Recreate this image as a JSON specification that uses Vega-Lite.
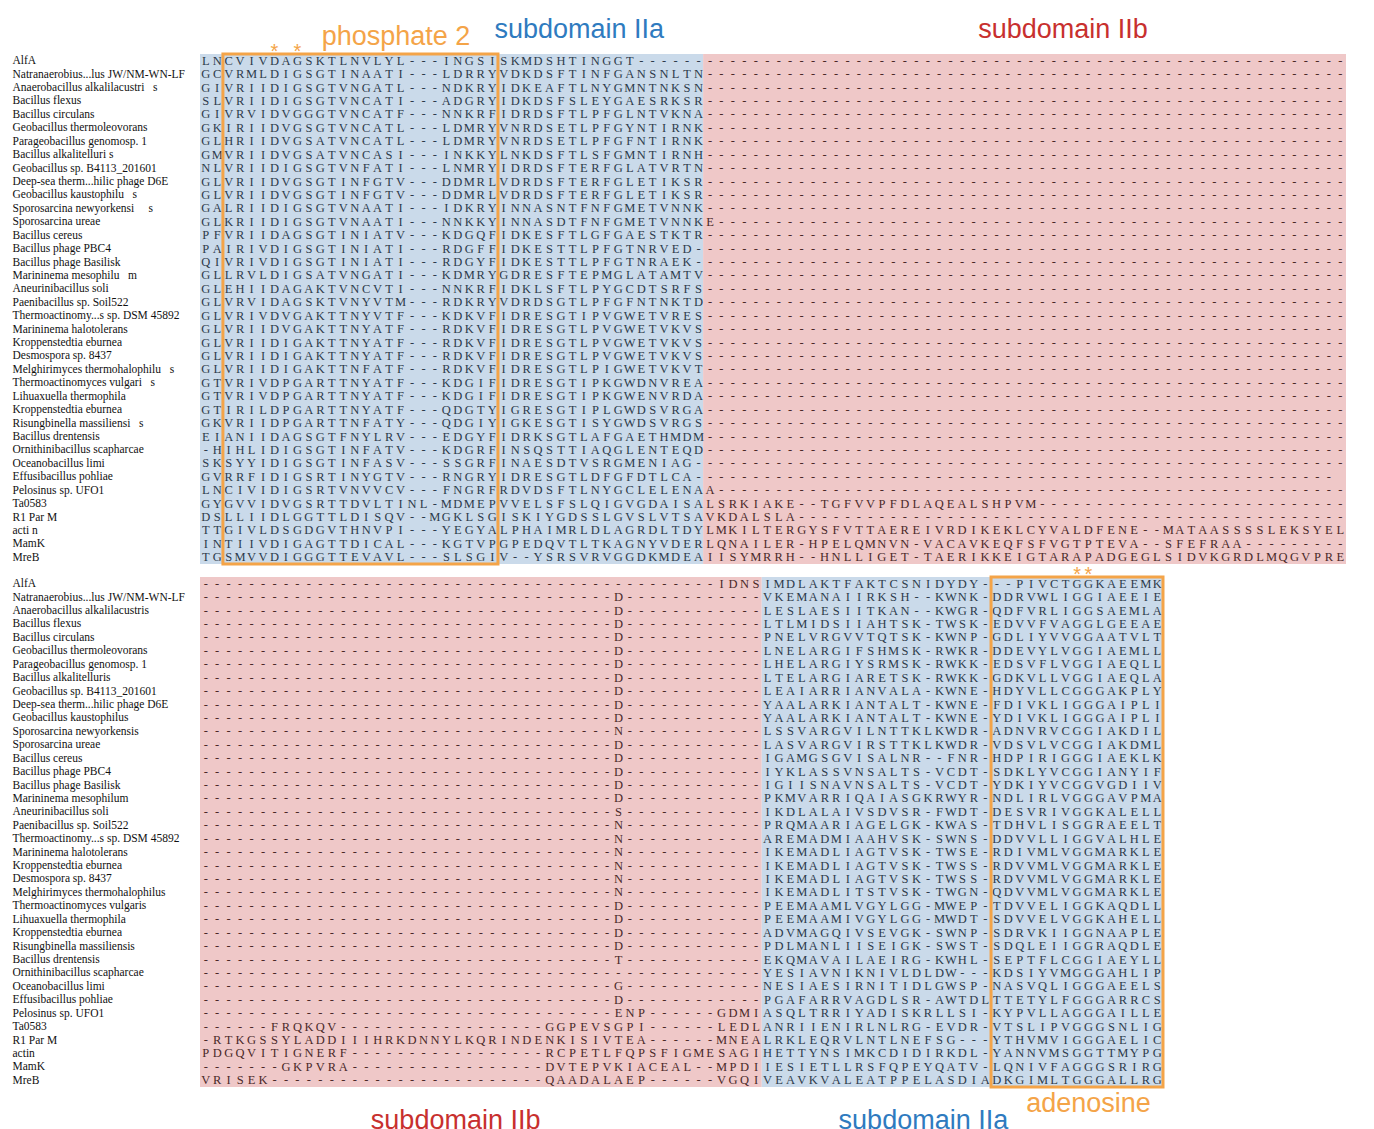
{
"$schema": "https://vega.github.io/schema/vega-lite/v6.json",
"background": "white",
"padding": {"left": 12, "top": 15, "right": 10, "bottom": 10},
"bounds": "flush",
"spacing": 13,
"config": {"view": {"stroke": null}, "axis": {"domain": false, "ticks": false, "grid": false}},
"datasets": {
"top": [
{"n":"AlfA","s":["L","N","C","V","I","V","D","A","G","S","K","T","L","N","V","L","Y","L","-","-","-","I","N","G","S","I","S","K","M","D","S","H","T","I","N","G","G","T","-","-","-","-","-","-","-","-","-","-","-","-","-","-","-","-","-","-","-","-","-","-","-","-","-","-","-","-","-","-","-","-","-","-","-","-","-","-","-","-","-","-","-","-","-","-","-","-","-","-","-","-","-","-","-","-","-","-","-","-","-","-"]},
{"n":"Natranaerobius...lus JW/NM-WN-LF","s":["G","C","V","R","M","L","D","I","G","S","G","T","I","N","A","A","T","I","-","-","-","L","D","R","R","Y","V","D","K","D","S","F","T","I","N","F","G","A","N","S","N","L","T","N","-","-","-","-","-","-","-","-","-","-","-","-","-","-","-","-","-","-","-","-","-","-","-","-","-","-","-","-","-","-","-","-","-","-","-","-","-","-","-","-","-","-","-","-","-","-","-","-","-","-","-","-","-","-","-","-"]},
{"n":"Anaerobacillus alkalilacustri\u00a0\u00a0\u00a0s","s":["G","I","V","R","I","I","D","I","G","S","G","T","V","N","G","A","T","L","-","-","-","N","D","K","R","Y","I","D","K","E","A","F","T","L","N","Y","G","M","N","T","N","K","S","N","-","-","-","-","-","-","-","-","-","-","-","-","-","-","-","-","-","-","-","-","-","-","-","-","-","-","-","-","-","-","-","-","-","-","-","-","-","-","-","-","-","-","-","-","-","-","-","-","-","-","-","-","-","-","-","-"]},
{"n":"Bacillus flexus","s":["S","L","V","R","I","I","D","I","G","S","G","T","V","N","C","A","T","I","-","-","-","A","D","G","R","Y","I","D","K","D","S","F","S","L","E","Y","G","A","E","S","R","K","S","R","-","-","-","-","-","-","-","-","-","-","-","-","-","-","-","-","-","-","-","-","-","-","-","-","-","-","-","-","-","-","-","-","-","-","-","-","-","-","-","-","-","-","-","-","-","-","-","-","-","-","-","-","-","-","-","-"]},
{"n":"Bacillus circulans","s":["G","I","V","R","V","I","D","V","G","G","G","T","V","N","C","A","T","F","-","-","-","N","N","K","R","F","I","D","R","D","S","F","T","L","P","F","G","L","N","T","V","K","N","A","-","-","-","-","-","-","-","-","-","-","-","-","-","-","-","-","-","-","-","-","-","-","-","-","-","-","-","-","-","-","-","-","-","-","-","-","-","-","-","-","-","-","-","-","-","-","-","-","-","-","-","-","-","-","-","-"]},
{"n":"Geobacillus thermoleovorans","s":["G","K","I","R","I","I","D","V","G","S","G","T","V","N","C","A","T","L","-","-","-","L","D","M","R","Y","V","N","R","D","S","E","T","L","P","F","G","Y","N","T","I","R","N","K","-","-","-","-","-","-","-","-","-","-","-","-","-","-","-","-","-","-","-","-","-","-","-","-","-","-","-","-","-","-","-","-","-","-","-","-","-","-","-","-","-","-","-","-","-","-","-","-","-","-","-","-","-","-","-","-"]},
{"n":"Parageobacillus genomosp. 1","s":["G","L","H","R","I","I","D","V","G","S","A","T","V","N","C","A","T","L","-","-","-","L","D","M","R","Y","V","N","R","D","S","E","T","L","P","F","G","F","N","T","I","R","N","K","-","-","-","-","-","-","-","-","-","-","-","-","-","-","-","-","-","-","-","-","-","-","-","-","-","-","-","-","-","-","-","-","-","-","-","-","-","-","-","-","-","-","-","-","-","-","-","-","-","-","-","-","-","-","-","-"]},
{"n":"Bacillus alkalitelluri s","s":["G","M","V","R","I","I","D","V","G","S","A","T","V","N","C","A","S","I","-","-","-","I","N","K","K","Y","L","N","K","D","S","F","T","L","S","F","G","M","N","T","I","R","N","H","-","-","-","-","-","-","-","-","-","-","-","-","-","-","-","-","-","-","-","-","-","-","-","-","-","-","-","-","-","-","-","-","-","-","-","-","-","-","-","-","-","-","-","-","-","-","-","-","-","-","-","-","-","-","-","-"]},
{"n":"Geobacillus sp. B4113_201601","s":["N","L","V","R","I","I","D","I","G","S","G","T","V","N","F","A","T","I","-","-","-","L","N","M","R","Y","I","D","R","D","S","F","T","E","R","F","G","L","A","T","V","R","T","N","-","-","-","-","-","-","-","-","-","-","-","-","-","-","-","-","-","-","-","-","-","-","-","-","-","-","-","-","-","-","-","-","-","-","-","-","-","-","-","-","-","-","-","-","-","-","-","-","-","-","-","-","-","-","-","-"]},
{"n":"Deep-sea therm...hilic phage D6E","s":["G","L","V","R","I","I","D","V","G","S","G","T","I","N","F","G","T","V","-","-","-","D","D","M","R","L","V","D","R","D","S","F","T","E","R","F","G","L","E","T","I","K","S","R","-","-","-","-","-","-","-","-","-","-","-","-","-","-","-","-","-","-","-","-","-","-","-","-","-","-","-","-","-","-","-","-","-","-","-","-","-","-","-","-","-","-","-","-","-","-","-","-","-","-","-","-","-","-","-","-"]},
{"n":"Geobacillus kaustophilu\u00a0\u00a0\u00a0s","s":["G","L","V","R","I","I","D","V","G","S","G","T","I","N","F","G","T","V","-","-","-","D","D","M","R","L","V","D","R","D","S","F","T","E","R","F","G","L","E","T","I","K","S","R","-","-","-","-","-","-","-","-","-","-","-","-","-","-","-","-","-","-","-","-","-","-","-","-","-","-","-","-","-","-","-","-","-","-","-","-","-","-","-","-","-","-","-","-","-","-","-","-","-","-","-","-","-","-","-","-"]},
{"n":"Sporosarcina newyorkensi\u00a0\u00a0\u00a0\u00a0\u00a0s","s":["G","A","L","R","I","I","D","I","G","S","G","T","V","N","A","A","T","I","-","-","-","I","D","K","R","Y","I","N","N","A","S","N","T","F","N","F","G","M","E","T","V","N","N","K","-","-","-","-","-","-","-","-","-","-","-","-","-","-","-","-","-","-","-","-","-","-","-","-","-","-","-","-","-","-","-","-","-","-","-","-","-","-","-","-","-","-","-","-","-","-","-","-","-","-","-","-","-","-","-","-"]},
{"n":"Sporosarcina ureae","s":["G","L","K","R","I","I","D","I","G","S","G","T","V","N","A","A","T","I","-","-","-","N","N","K","K","Y","I","N","N","A","S","D","T","F","N","F","G","M","E","T","V","N","N","K","E","-","-","-","-","-","-","-","-","-","-","-","-","-","-","-","-","-","-","-","-","-","-","-","-","-","-","-","-","-","-","-","-","-","-","-","-","-","-","-","-","-","-","-","-","-","-","-","-","-","-","-","-","-","-","-"]},
{"n":"Bacillus cereus","s":["P","F","V","R","I","I","D","A","G","S","G","T","I","N","I","A","T","V","-","-","-","K","D","G","Q","F","I","D","K","E","S","F","T","L","G","F","G","A","E","S","T","K","T","R","-","-","-","-","-","-","-","-","-","-","-","-","-","-","-","-","-","-","-","-","-","-","-","-","-","-","-","-","-","-","-","-","-","-","-","-","-","-","-","-","-","-","-","-","-","-","-","-","-","-","-","-","-","-","-","-"]},
{"n":"Bacillus phage PBC4","s":["P","A","I","R","I","V","D","I","G","S","G","T","I","N","I","A","T","I","-","-","-","R","D","G","F","F","I","D","K","E","S","T","T","L","P","F","G","T","N","R","V","E","D","-","-","-","-","-","-","-","-","-","-","-","-","-","-","-","-","-","-","-","-","-","-","-","-","-","-","-","-","-","-","-","-","-","-","-","-","-","-","-","-","-","-","-","-","-","-","-","-","-","-","-","-","-","-","-","-","-"]},
{"n":"Bacillus phage Basilisk","s":["Q","I","V","R","I","V","D","I","G","S","G","T","I","N","I","A","T","I","-","-","-","R","D","G","Y","F","I","D","K","E","S","T","T","L","P","F","G","T","N","R","A","E","K","-","-","-","-","-","-","-","-","-","-","-","-","-","-","-","-","-","-","-","-","-","-","-","-","-","-","-","-","-","-","-","-","-","-","-","-","-","-","-","-","-","-","-","-","-","-","-","-","-","-","-","-","-","-","-","-","-"]},
{"n":"Marininema mesophilu\u00a0\u00a0\u00a0m","s":["G","L","L","R","V","L","D","I","G","S","A","T","V","N","G","A","T","I","-","-","-","K","D","M","R","Y","G","D","R","E","S","F","T","E","P","M","G","L","A","T","A","M","T","V","-","-","-","-","-","-","-","-","-","-","-","-","-","-","-","-","-","-","-","-","-","-","-","-","-","-","-","-","-","-","-","-","-","-","-","-","-","-","-","-","-","-","-","-","-","-","-","-","-","-","-","-","-","-","-","-"]},
{"n":"Aneurinibacillus soli","s":["G","L","E","H","I","I","D","A","G","A","K","T","V","N","C","V","T","I","-","-","-","N","N","K","R","F","I","D","K","L","S","F","T","L","P","Y","G","C","D","T","S","R","F","S","-","-","-","-","-","-","-","-","-","-","-","-","-","-","-","-","-","-","-","-","-","-","-","-","-","-","-","-","-","-","-","-","-","-","-","-","-","-","-","-","-","-","-","-","-","-","-","-","-","-","-","-","-","-","-","-"]},
{"n":"Paenibacillus sp. Soil522","s":["G","L","V","R","V","I","D","A","G","S","K","T","V","N","Y","V","T","M","-","-","-","R","D","K","R","Y","V","D","R","D","S","G","T","L","P","F","G","F","N","T","N","K","T","D","-","-","-","-","-","-","-","-","-","-","-","-","-","-","-","-","-","-","-","-","-","-","-","-","-","-","-","-","-","-","-","-","-","-","-","-","-","-","-","-","-","-","-","-","-","-","-","-","-","-","-","-","-","-","-","-"]},
{"n":"Thermoactinomy...s sp. DSM 45892","s":["G","L","V","R","I","V","D","V","G","A","K","T","T","N","Y","V","T","F","-","-","-","K","D","K","V","F","I","D","R","E","S","G","T","I","P","V","G","W","E","T","V","R","E","S","-","-","-","-","-","-","-","-","-","-","-","-","-","-","-","-","-","-","-","-","-","-","-","-","-","-","-","-","-","-","-","-","-","-","-","-","-","-","-","-","-","-","-","-","-","-","-","-","-","-","-","-","-","-","-","-"]},
{"n":"Marininema halotolerans","s":["G","L","V","R","I","I","D","V","G","A","K","T","T","N","Y","A","T","F","-","-","-","R","D","K","V","F","I","D","R","E","S","G","T","L","P","V","G","W","E","T","V","K","V","S","-","-","-","-","-","-","-","-","-","-","-","-","-","-","-","-","-","-","-","-","-","-","-","-","-","-","-","-","-","-","-","-","-","-","-","-","-","-","-","-","-","-","-","-","-","-","-","-","-","-","-","-","-","-","-","-"]},
{"n":"Kroppenstedtia eburnea","s":["G","L","V","R","I","I","D","I","G","A","K","T","T","N","Y","A","T","F","-","-","-","R","D","K","V","F","I","D","R","E","S","G","T","L","P","V","G","W","E","T","V","K","V","S","-","-","-","-","-","-","-","-","-","-","-","-","-","-","-","-","-","-","-","-","-","-","-","-","-","-","-","-","-","-","-","-","-","-","-","-","-","-","-","-","-","-","-","-","-","-","-","-","-","-","-","-","-","-","-","-"]},
{"n":"Desmospora sp. 8437","s":["G","L","V","R","I","I","D","I","G","A","K","T","T","N","Y","A","T","F","-","-","-","R","D","K","V","F","I","D","R","E","S","G","T","L","P","V","G","W","E","T","V","K","V","S","-","-","-","-","-","-","-","-","-","-","-","-","-","-","-","-","-","-","-","-","-","-","-","-","-","-","-","-","-","-","-","-","-","-","-","-","-","-","-","-","-","-","-","-","-","-","-","-","-","-","-","-","-","-","-","-"]},
{"n":"Melghirimyces thermohalophilu\u00a0\u00a0\u00a0s","s":["G","L","V","R","I","I","D","I","G","A","K","T","T","N","F","A","T","F","-","-","-","R","D","K","V","F","I","D","R","E","S","G","T","L","P","I","G","W","E","T","V","K","V","T","-","-","-","-","-","-","-","-","-","-","-","-","-","-","-","-","-","-","-","-","-","-","-","-","-","-","-","-","-","-","-","-","-","-","-","-","-","-","-","-","-","-","-","-","-","-","-","-","-","-","-","-","-","-","-","-"]},
{"n":"Thermoactinomyces vulgari\u00a0\u00a0\u00a0s","s":["G","T","V","R","I","V","D","P","G","A","R","T","T","N","Y","A","T","F","-","-","-","K","D","G","I","F","I","D","R","E","S","G","T","I","P","K","G","W","D","N","V","R","E","A","-","-","-","-","-","-","-","-","-","-","-","-","-","-","-","-","-","-","-","-","-","-","-","-","-","-","-","-","-","-","-","-","-","-","-","-","-","-","-","-","-","-","-","-","-","-","-","-","-","-","-","-","-","-","-","-"]},
{"n":"Lihuaxuella thermophila","s":["G","T","V","R","I","V","D","P","G","A","R","T","T","N","Y","A","T","F","-","-","-","K","D","G","I","F","I","D","R","E","S","G","T","I","P","K","G","W","E","N","V","R","D","A","-","-","-","-","-","-","-","-","-","-","-","-","-","-","-","-","-","-","-","-","-","-","-","-","-","-","-","-","-","-","-","-","-","-","-","-","-","-","-","-","-","-","-","-","-","-","-","-","-","-","-","-","-","-","-","-"]},
{"n":"Kroppenstedtia eburnea\u00a0","s":["G","T","I","R","I","L","D","P","G","A","R","T","T","N","Y","A","T","F","-","-","-","Q","D","G","T","Y","I","G","R","E","S","G","T","I","P","L","G","W","D","S","V","R","G","A","-","-","-","-","-","-","-","-","-","-","-","-","-","-","-","-","-","-","-","-","-","-","-","-","-","-","-","-","-","-","-","-","-","-","-","-","-","-","-","-","-","-","-","-","-","-","-","-","-","-","-","-","-","-","-","-"]},
{"n":"Risungbinella massiliensi\u00a0\u00a0\u00a0s","s":["G","K","V","R","I","I","D","P","G","A","R","T","T","N","F","A","T","Y","-","-","-","Q","D","G","I","Y","I","G","K","E","S","G","T","I","S","Y","G","W","D","S","V","R","G","S","-","-","-","-","-","-","-","-","-","-","-","-","-","-","-","-","-","-","-","-","-","-","-","-","-","-","-","-","-","-","-","-","-","-","-","-","-","-","-","-","-","-","-","-","-","-","-","-","-","-","-","-","-","-","-","-"]},
{"n":"Bacillus drentensis","s":["E","I","A","N","I","I","D","A","G","S","G","T","F","N","Y","L","R","V","-","-","-","E","D","G","Y","F","I","D","R","K","S","G","T","L","A","F","G","A","E","T","H","M","D","M","-","-","-","-","-","-","-","-","-","-","-","-","-","-","-","-","-","-","-","-","-","-","-","-","-","-","-","-","-","-","-","-","-","-","-","-","-","-","-","-","-","-","-","-","-","-","-","-","-","-","-","-","-","-","-","-"]},
{"n":"Ornithinibacillus scapharcae","s":["-","H","I","H","L","I","D","I","G","S","G","T","I","N","F","A","T","V","-","-","-","K","D","G","R","F","I","N","S","Q","S","T","T","I","A","Q","G","L","E","N","T","E","Q","D","-","-","-","-","-","-","-","-","-","-","-","-","-","-","-","-","-","-","-","-","-","-","-","-","-","-","-","-","-","-","-","-","-","-","-","-","-","-","-","-","-","-","-","-","-","-","-","-","-","-","-","-","-","-","-","-"]},
{"n":"Oceanobacillus limi","s":["S","K","S","Y","Y","I","D","I","G","S","G","T","I","N","F","A","S","V","-","-","-","S","S","G","R","F","I","N","A","E","S","D","T","V","S","R","G","M","E","N","I","A","G","-","-","-","-","-","-","-","-","-","-","-","-","-","-","-","-","-","-","-","-","-","-","-","-","-","-","-","-","-","-","-","-","-","-","-","-","-","-","-","-","-","-","-","-","-","-","-","-","-","-","-","-","-","-","-","-","-"]},
{"n":"Effusibacillus pohliae","s":["G","V","R","R","F","I","D","I","G","S","R","T","I","N","Y","G","T","V","-","-","-","R","N","G","R","Y","I","D","R","E","S","G","T","L","D","F","G","F","D","T","L","C","A","-","-","-","-","-","-","-","-","-","-","-","-","-","-","-","-","-","-","-","-","-","-","-","-","-","-","-","-","-","-","-","-","-","-","-","-","-","-","-","-","-","-","-","-","-","-","-","-","-","-","-","-","-","-","-","-"]},
{"n":"Pelosinus sp. UFO1","s":["L","N","C","I","V","I","D","I","G","S","R","T","V","N","V","V","C","V","-","-","-","F","N","G","R","F","R","D","V","D","S","F","T","L","N","Y","G","C","L","E","L","E","N","A","A","-","-","-","-","-","-","-","-","-","-","-","-","-","-","-","-","-","-","-","-","-","-","-","-","-","-","-","-","-","-","-","-","-","-","-","-","-","-","-","-","-","-","-","-","-","-","-","-","-","-","-","-","-","-","-"]},
{"n":"Ta0583","s":["G","Y","G","V","V","I","D","V","G","S","R","T","T","D","V","L","T","I","N","L","-","M","D","M","E","P","V","V","E","L","S","F","S","L","Q","I","G","V","G","D","A","I","S","A","L","S","R","K","I","A","K","E","-","-","T","G","F","V","V","P","F","D","L","A","Q","E","A","L","S","H","P","V","M","-","-","-","-","-","-","-","-","-","-","-","-","-","-","-","-","-","-","-","-","-","-","-","-","-","-","-"]},
{"n":"R1 Par M","s":["D","S","L","L","I","I","D","L","G","G","T","T","L","D","I","S","Q","V","-","-","M","G","K","L","S","G","I","S","K","I","Y","G","D","S","S","L","G","V","S","L","V","T","S","A","V","K","D","A","L","S","L","A","-","-","-","-","-","-","-","-","-","-","-","-","-","-","-","-","-","-","-","-","-","-","-","-","-","-","-","-","-","-","-","-","-","-","-","-","-","-","-","-","-","-","-","-","-","-","-","-"]},
{"n":"acti n","s":["T","T","G","I","V","L","D","S","G","D","G","V","T","H","N","V","P","I","-","-","-","Y","E","G","Y","A","L","P","H","A","I","M","R","L","D","L","A","G","R","D","L","T","D","Y","L","M","K","I","L","T","E","R","G","Y","S","F","V","T","T","A","E","R","E","I","V","R","D","I","K","E","K","L","C","Y","V","A","L","D","F","E","N","E","-","-","M","A","T","A","A","S","S","S","S","L","E","K","S","Y","E","L"]},
{"n":"MamK","s":["I","N","T","I","I","V","D","I","G","A","G","T","T","D","I","C","A","L","-","-","-","K","G","T","V","P","G","P","E","D","Q","V","T","L","T","K","A","G","N","Y","V","D","E","R","L","Q","N","A","I","L","E","R","-","H","P","E","L","Q","M","N","V","N","-","V","A","C","A","V","K","E","Q","F","S","F","V","G","T","P","T","E","V","A","-","-","S","F","E","F","R","A","A","-","-","-","-","-","-","-","-","-"]},
{"n":"MreB","s":["T","G","S","M","V","V","D","I","G","G","G","T","T","E","V","A","V","L","-","-","-","S","L","S","G","I","V","-","-","Y","S","R","S","V","R","V","G","G","D","K","M","D","E","A","I","I","S","Y","M","R","R","H","-","-","H","N","L","L","I","G","E","T","-","T","A","E","R","I","K","K","E","I","G","T","A","R","A","P","A","D","G","E","G","L","S","I","D","V","K","G","R","D","L","M","Q","G","V","P","R","E"]}
],
"bottom": [
{"n":"AlfA","s":["-","-","-","-","-","-","-","-","-","-","-","-","-","-","-","-","-","-","-","-","-","-","-","-","-","-","-","-","-","-","-","-","-","-","-","-","-","-","-","-","-","-","-","-","-","I","D","N","S","I","M","D","L","A","K","T","F","A","K","T","C","S","N","I","D","Y","D","Y","-","-","-","P","I","V","C","T","G","G","K","A","E","E","M","K"]},
{"n":"Natranaerobius...lus JW/NM-WN-LF","s":["-","-","-","-","-","-","-","-","-","-","-","-","-","-","-","-","-","-","-","-","-","-","-","-","-","-","-","-","-","-","-","-","-","-","-","-","D","-","-","-","-","-","-","-","-","-","-","-","-","V","K","E","M","A","N","A","I","I","R","K","S","H","-","-","K","W","N","K","-","D","D","R","V","W","L","I","G","G","I","A","E","E","I","E"]},
{"n":"Anaerobacillus alkalilacustris","s":["-","-","-","-","-","-","-","-","-","-","-","-","-","-","-","-","-","-","-","-","-","-","-","-","-","-","-","-","-","-","-","-","-","-","-","-","D","-","-","-","-","-","-","-","-","-","-","-","-","L","E","S","L","A","E","S","I","I","T","K","A","N","-","-","K","W","G","R","-","Q","D","F","V","R","L","I","G","G","S","A","E","M","L","A"]},
{"n":"Bacillus flexus","s":["-","-","-","-","-","-","-","-","-","-","-","-","-","-","-","-","-","-","-","-","-","-","-","-","-","-","-","-","-","-","-","-","-","-","-","-","D","-","-","-","-","-","-","-","-","-","-","-","-","L","T","L","M","I","D","S","I","I","A","H","T","S","K","-","T","W","S","K","-","E","D","V","V","F","V","A","G","G","L","G","E","E","A","E"]},
{"n":"Bacillus circulans","s":["-","-","-","-","-","-","-","-","-","-","-","-","-","-","-","-","-","-","-","-","-","-","-","-","-","-","-","-","-","-","-","-","-","-","-","-","D","-","-","-","-","-","-","-","-","-","-","-","-","P","N","E","L","V","R","G","V","V","T","Q","T","S","K","-","K","W","N","P","-","G","D","L","I","Y","V","V","G","G","A","A","T","V","L","T"]},
{"n":"Geobacillus thermoleovorans","s":["-","-","-","-","-","-","-","-","-","-","-","-","-","-","-","-","-","-","-","-","-","-","-","-","-","-","-","-","-","-","-","-","-","-","-","-","D","-","-","-","-","-","-","-","-","-","-","-","-","L","N","E","L","A","R","G","I","F","S","H","M","S","K","-","R","W","K","R","-","D","D","E","V","Y","L","V","G","G","I","A","E","M","L","L"]},
{"n":"Parageobacillus genomosp. 1","s":["-","-","-","-","-","-","-","-","-","-","-","-","-","-","-","-","-","-","-","-","-","-","-","-","-","-","-","-","-","-","-","-","-","-","-","-","D","-","-","-","-","-","-","-","-","-","-","-","-","L","H","E","L","A","R","G","I","Y","S","R","M","S","K","-","R","W","K","K","-","E","D","S","V","F","L","V","G","G","I","A","E","Q","L","L"]},
{"n":"Bacillus alkalitelluris","s":["-","-","-","-","-","-","-","-","-","-","-","-","-","-","-","-","-","-","-","-","-","-","-","-","-","-","-","-","-","-","-","-","-","-","-","-","D","-","-","-","-","-","-","-","-","-","-","-","-","L","T","E","L","A","R","G","I","A","R","E","T","S","K","-","R","W","K","K","-","G","D","K","V","L","L","V","G","G","I","A","E","Q","L","A"]},
{"n":"Geobacillus sp. B4113_201601","s":["-","-","-","-","-","-","-","-","-","-","-","-","-","-","-","-","-","-","-","-","-","-","-","-","-","-","-","-","-","-","-","-","-","-","-","-","D","-","-","-","-","-","-","-","-","-","-","-","-","L","E","A","I","A","R","R","I","A","N","V","A","L","A","-","K","W","N","E","-","H","D","Y","V","L","L","C","G","G","G","A","K","P","L","Y"]},
{"n":"Deep-sea therm...hilic phage D6E","s":["-","-","-","-","-","-","-","-","-","-","-","-","-","-","-","-","-","-","-","-","-","-","-","-","-","-","-","-","-","-","-","-","-","-","-","-","D","-","-","-","-","-","-","-","-","-","-","-","-","Y","A","A","L","A","R","K","I","A","N","T","A","L","T","-","K","W","N","E","-","F","D","I","V","K","L","I","G","G","G","A","I","P","L","I"]},
{"n":"Geobacillus kaustophilus","s":["-","-","-","-","-","-","-","-","-","-","-","-","-","-","-","-","-","-","-","-","-","-","-","-","-","-","-","-","-","-","-","-","-","-","-","-","D","-","-","-","-","-","-","-","-","-","-","-","-","Y","A","A","L","A","R","K","I","A","N","T","A","L","T","-","K","W","N","E","-","Y","D","I","V","K","L","I","G","G","G","A","I","P","L","I"]},
{"n":"Sporosarcina newyorkensis","s":["-","-","-","-","-","-","-","-","-","-","-","-","-","-","-","-","-","-","-","-","-","-","-","-","-","-","-","-","-","-","-","-","-","-","-","-","N","-","-","-","-","-","-","-","-","-","-","-","-","L","S","S","V","A","R","G","V","I","L","N","T","T","K","L","K","W","D","R","-","A","D","N","V","R","V","C","G","G","I","A","K","D","I","L"]},
{"n":"Sporosarcina ureae","s":["-","-","-","-","-","-","-","-","-","-","-","-","-","-","-","-","-","-","-","-","-","-","-","-","-","-","-","-","-","-","-","-","-","-","-","-","D","-","-","-","-","-","-","-","-","-","-","-","-","L","A","S","V","A","R","G","V","I","R","S","T","T","K","L","K","W","D","R","-","V","D","S","V","L","V","C","G","G","I","A","K","D","M","L"]},
{"n":"Bacillus cereus","s":["-","-","-","-","-","-","-","-","-","-","-","-","-","-","-","-","-","-","-","-","-","-","-","-","-","-","-","-","-","-","-","-","-","-","-","-","D","-","-","-","-","-","-","-","-","-","-","-","-","I","G","A","M","G","S","G","V","I","S","A","L","N","R","-","-","F","N","R","-","H","D","P","I","R","I","G","G","G","I","A","E","K","L","K"]},
{"n":"Bacillus phage PBC4","s":["-","-","-","-","-","-","-","-","-","-","-","-","-","-","-","-","-","-","-","-","-","-","-","-","-","-","-","-","-","-","-","-","-","-","-","-","D","-","-","-","-","-","-","-","-","-","-","-","-","I","Y","K","L","A","S","S","V","N","S","A","L","T","S","-","V","C","D","T","-","S","D","K","L","Y","V","C","G","G","I","A","N","Y","I","F"]},
{"n":"Bacillus phage Basilisk","s":["-","-","-","-","-","-","-","-","-","-","-","-","-","-","-","-","-","-","-","-","-","-","-","-","-","-","-","-","-","-","-","-","-","-","-","-","D","-","-","-","-","-","-","-","-","-","-","-","-","I","G","I","I","S","N","A","V","N","S","A","L","T","S","-","V","C","D","T","-","Y","D","K","I","Y","V","C","G","G","V","G","D","I","I","V"]},
{"n":"Marininema mesophilum","s":["-","-","-","-","-","-","-","-","-","-","-","-","-","-","-","-","-","-","-","-","-","-","-","-","-","-","-","-","-","-","-","-","-","-","-","-","D","-","-","-","-","-","-","-","-","-","-","-","-","P","K","M","V","A","R","R","I","Q","A","I","A","S","G","K","R","W","Y","R","-","N","D","L","I","R","L","V","G","G","G","A","V","P","M","A"]},
{"n":"Aneurinibacillus soli","s":["-","-","-","-","-","-","-","-","-","-","-","-","-","-","-","-","-","-","-","-","-","-","-","-","-","-","-","-","-","-","-","-","-","-","-","-","S","-","-","-","-","-","-","-","-","-","-","-","-","I","K","D","L","A","L","A","I","V","S","D","V","S","R","-","F","W","D","T","-","D","E","S","V","R","I","V","G","G","K","A","L","E","L","L"]},
{"n":"Paenibacillus sp. Soil522","s":["-","-","-","-","-","-","-","-","-","-","-","-","-","-","-","-","-","-","-","-","-","-","-","-","-","-","-","-","-","-","-","-","-","-","-","-","N","-","-","-","-","-","-","-","-","-","-","-","-","P","R","Q","M","A","A","R","I","A","G","E","L","G","K","-","K","W","A","S","-","T","D","H","V","L","I","S","G","G","R","A","E","E","L","T"]},
{"n":"Thermoactinomy...s sp. DSM 45892","s":["-","-","-","-","-","-","-","-","-","-","-","-","-","-","-","-","-","-","-","-","-","-","-","-","-","-","-","-","-","-","-","-","-","-","-","-","N","-","-","-","-","-","-","-","-","-","-","-","-","A","R","E","M","A","D","M","I","A","A","H","V","S","K","-","S","W","N","S","-","D","D","V","V","L","L","I","G","G","V","A","L","H","L","E"]},
{"n":"Marininema halotolerans","s":["-","-","-","-","-","-","-","-","-","-","-","-","-","-","-","-","-","-","-","-","-","-","-","-","-","-","-","-","-","-","-","-","-","-","-","-","N","-","-","-","-","-","-","-","-","-","-","-","-","I","K","E","M","A","D","L","I","A","G","T","V","S","K","-","T","W","S","E","-","R","D","I","V","M","L","V","G","G","M","A","R","K","L","E"]},
{"n":"Kroppenstedtia eburnea","s":["-","-","-","-","-","-","-","-","-","-","-","-","-","-","-","-","-","-","-","-","-","-","-","-","-","-","-","-","-","-","-","-","-","-","-","-","N","-","-","-","-","-","-","-","-","-","-","-","-","I","K","E","M","A","D","L","I","A","G","T","V","S","K","-","T","W","S","S","-","R","D","V","V","M","L","V","G","G","M","A","R","K","L","E"]},
{"n":"Desmospora sp. 8437","s":["-","-","-","-","-","-","-","-","-","-","-","-","-","-","-","-","-","-","-","-","-","-","-","-","-","-","-","-","-","-","-","-","-","-","-","-","N","-","-","-","-","-","-","-","-","-","-","-","-","I","K","E","M","A","D","L","I","A","G","T","V","S","K","-","T","W","S","S","-","R","D","V","V","M","L","V","G","G","M","A","R","K","L","E"]},
{"n":"Melghirimyces thermohalophilus","s":["-","-","-","-","-","-","-","-","-","-","-","-","-","-","-","-","-","-","-","-","-","-","-","-","-","-","-","-","-","-","-","-","-","-","-","-","N","-","-","-","-","-","-","-","-","-","-","-","-","I","K","E","M","A","D","L","I","T","S","T","V","S","K","-","T","W","G","N","-","Q","D","V","V","M","L","V","G","G","M","A","R","K","L","E"]},
{"n":"Thermoactinomyces vulgaris","s":["-","-","-","-","-","-","-","-","-","-","-","-","-","-","-","-","-","-","-","-","-","-","-","-","-","-","-","-","-","-","-","-","-","-","-","-","D","-","-","-","-","-","-","-","-","-","-","-","-","P","E","E","M","A","A","M","L","V","G","Y","L","G","G","-","M","W","E","P","-","T","D","V","V","E","L","I","G","G","K","A","Q","D","L","L"]},
{"n":"Lihuaxuella thermophila","s":["-","-","-","-","-","-","-","-","-","-","-","-","-","-","-","-","-","-","-","-","-","-","-","-","-","-","-","-","-","-","-","-","-","-","-","-","D","-","-","-","-","-","-","-","-","-","-","-","-","P","E","E","M","A","A","M","I","V","G","Y","L","G","G","-","M","W","D","T","-","S","D","V","V","E","L","V","G","G","K","A","H","E","L","L"]},
{"n":"Kroppenstedtia eburnea\u00a0","s":["-","-","-","-","-","-","-","-","-","-","-","-","-","-","-","-","-","-","-","-","-","-","-","-","-","-","-","-","-","-","-","-","-","-","-","-","D","-","-","-","-","-","-","-","-","-","-","-","-","A","D","V","M","A","G","Q","I","V","S","E","V","G","K","-","S","W","N","P","-","S","D","R","V","K","I","I","G","G","N","A","A","P","L","E"]},
{"n":"Risungbinella massiliensis","s":["-","-","-","-","-","-","-","-","-","-","-","-","-","-","-","-","-","-","-","-","-","-","-","-","-","-","-","-","-","-","-","-","-","-","-","-","D","-","-","-","-","-","-","-","-","-","-","-","-","P","D","L","M","A","N","L","I","I","S","E","I","G","K","-","S","W","S","T","-","S","D","Q","L","E","I","I","G","G","R","A","Q","D","L","E"]},
{"n":"Bacillus drentensis","s":["-","-","-","-","-","-","-","-","-","-","-","-","-","-","-","-","-","-","-","-","-","-","-","-","-","-","-","-","-","-","-","-","-","-","-","-","T","-","-","-","-","-","-","-","-","-","-","-","-","E","K","Q","M","A","V","A","I","L","A","E","I","R","G","-","K","W","H","L","-","S","E","P","T","F","L","C","G","G","I","A","E","Y","L","L"]},
{"n":"Ornithinibacillus scapharcae","s":["-","-","-","-","-","-","-","-","-","-","-","-","-","-","-","-","-","-","-","-","-","-","-","-","-","-","-","-","-","-","-","-","-","-","-","-","-","-","-","-","-","-","-","-","-","-","-","-","-","Y","E","S","I","A","V","N","I","K","N","I","V","L","D","L","D","W","-","-","-","K","D","S","I","Y","V","M","G","G","G","A","H","L","I","P"]},
{"n":"Oceanobacillus limi","s":["-","-","-","-","-","-","-","-","-","-","-","-","-","-","-","-","-","-","-","-","-","-","-","-","-","-","-","-","-","-","-","-","-","-","-","-","G","-","-","-","-","-","-","-","-","-","-","-","-","N","E","S","I","A","E","S","I","R","N","I","T","I","D","L","G","W","S","P","-","N","A","S","V","Q","L","I","G","G","G","A","E","E","L","S"]},
{"n":"Effusibacillus pohliae","s":["-","-","-","-","-","-","-","-","-","-","-","-","-","-","-","-","-","-","-","-","-","-","-","-","-","-","-","-","-","-","-","-","-","-","-","-","D","-","-","-","-","-","-","-","-","-","-","-","-","P","G","A","F","A","R","R","V","A","G","D","L","S","R","-","A","W","T","D","L","T","T","E","T","Y","L","F","G","G","G","A","R","R","C","S"]},
{"n":"Pelosinus sp. UFO1","s":["-","-","-","-","-","-","-","-","-","-","-","-","-","-","-","-","-","-","-","-","-","-","-","-","-","-","-","-","-","-","-","-","-","-","-","-","E","N","P","-","-","-","-","-","-","G","D","M","I","A","S","Q","L","T","R","R","I","Y","A","D","I","S","K","R","L","L","S","I","-","K","Y","P","V","L","L","A","G","G","G","A","I","L","L","E"]},
{"n":"Ta0583","s":["-","-","-","-","-","-","F","R","Q","K","Q","V","-","-","-","-","-","-","-","-","-","-","-","-","-","-","-","-","-","-","G","G","P","E","V","S","G","P","I","-","-","-","-","-","-","L","E","D","L","A","N","R","I","I","E","N","I","R","L","N","L","R","G","-","E","V","D","R","-","V","T","S","L","I","P","V","G","G","G","S","N","L","I","G"]},
{"n":"R1 Par M","s":["-","R","T","K","G","S","S","Y","L","A","D","D","I","I","I","H","R","K","D","N","N","Y","L","K","Q","R","I","N","D","E","N","K","I","S","I","V","T","E","A","-","-","-","-","-","-","M","N","E","A","L","R","K","L","E","Q","R","V","L","N","T","L","N","E","F","S","G","-","-","-","Y","T","H","V","M","V","I","G","G","G","A","E","L","I","C"]},
{"n":"actin","s":["P","D","G","Q","V","I","T","I","G","N","E","R","F","-","-","-","-","-","-","-","-","-","-","-","-","-","-","-","-","-","R","C","P","E","T","L","F","Q","P","S","F","I","G","M","E","S","A","G","I","H","E","T","T","Y","N","S","I","M","K","C","D","I","D","I","R","K","D","L","-","Y","A","N","N","V","M","S","G","G","T","T","M","Y","P","G"]},
{"n":"MamK","s":["-","-","-","-","-","-","-","G","K","P","V","R","A","-","-","-","-","-","-","-","-","-","-","-","-","-","-","-","-","-","D","V","T","E","P","V","K","I","A","C","E","A","L","-","-","M","P","D","I","I","E","S","I","E","T","L","L","R","S","F","Q","P","E","Y","Q","A","T","V","-","L","Q","N","I","V","F","A","G","G","G","S","R","I","R","G"]},
{"n":"MreB","s":["V","R","I","S","E","K","-","-","-","-","-","-","-","-","-","-","-","-","-","-","-","-","-","-","-","-","-","-","-","-","Q","A","A","D","A","L","A","E","P","-","-","-","-","-","-","V","G","Q","I","V","E","A","V","K","V","A","L","E","A","T","P","P","E","L","A","S","D","I","A","D","K","G","I","M","L","T","G","G","G","A","L","L","R","G"]}
]
},
"vconcat": [
{
"width": 1146,
"height": 510,
"layer": [
{
"data": {"values": [{"region": "IIa", "from": 0.5, "to": 44.4}, {"region": "IIb", "from": 44.4, "to": 100.5}]},
"mark": {"type": "rect"},
"encoding": {
"x": {"field": "from", "type": "quantitative", "scale": {"domain": [0.5, 100.5], "nice": false, "zero": false}, "axis": null},
"x2": {"field": "to"},
"color": {"field": "region", "type": "nominal", "scale": {"domain": ["IIa", "IIb"], "range": ["#cadaea", "#efc8c8"]}, "legend": null}
}
},
{
"data": {"name": "top"},
"transform": [{"flatten": ["s"], "as": ["a"]}, {"window": [{"op": "row_number", "as": "c"}], "groupby": ["n"]}],
"mark": {"type": "text", "font": "Liberation Serif", "fontSize": 12.5, "align": "center", "baseline": "middle"},
"encoding": {
"x": {"field": "c", "type": "quantitative", "axis": null},
"y": {"field": "n", "type": "ordinal", "sort": null, "scale": {"paddingInner": 0, "paddingOuter": 0},
"axis": {"title": null, "labelAlign": "left", "labelPadding": 188, "labelFont": "Liberation Serif", "labelFontSize": 11.5, "labelColor": "#111111", "labelLimit": 400}},
"text": {"field": "a"},
"color": {"condition": {"test": "datum.c <= 44", "value": "#2d3a4a"}, "value": "#4a2828"}
}
},
{
"data": {"values": [{"from": 2.5, "to": 26.5}]},
"mark": {"type": "rect", "filled": false, "stroke": "#f4a448", "strokeWidth": 3},
"encoding": {
"x": {"field": "from", "type": "quantitative", "axis": null},
"x2": {"field": "to"}
}
},
{
"data": {"values": [{"col": 7, "sym": "*"}, {"col": 9, "sym": "*"}]},
"mark": {"type": "text", "font": "Liberation Sans", "fontSize": 20, "align": "center", "baseline": "alphabetic", "dy": -2.5, "color": "#f4a448"},
"encoding": {
"x": {"field": "col", "type": "quantitative", "axis": null},
"y": {"datum": "AlfA", "type": "ordinal"},
"text": {"field": "sym"}
}
},
{
"data": {"values": [{"label": "subdomain IIa", "col": 33.6}, {"label": "subdomain IIb", "col": 75.8}]},
"mark": {"type": "text", "font": "Liberation Sans", "fontSize": 27, "align": "center", "baseline": "alphabetic", "dy": -23},
"encoding": {
"x": {"field": "col", "type": "quantitative", "axis": null},
"y": {"datum": "AlfA", "type": "ordinal"},
"text": {"field": "label"},
"fill": {"field": "label", "type": "nominal", "scale": {"domain": ["phosphate 2", "subdomain IIa", "subdomain IIb", "adenosine"], "range": ["#f4a448", "#2f7bbf", "#c8302e", "#f4a448"]}, "legend": null}
}
},
{
"data": {"values": [{"label": "phosphate 2", "col": 17.6}]},
"mark": {"type": "text", "font": "Liberation Sans", "fontSize": 27, "align": "center", "baseline": "alphabetic", "dy": -16},
"encoding": {
"x": {"field": "col", "type": "quantitative", "axis": null},
"y": {"datum": "AlfA", "type": "ordinal"},
"text": {"field": "label"},
"fill": {"field": "label", "type": "nominal", "scale": {"domain": ["phosphate 2", "subdomain IIa", "subdomain IIb", "adenosine"], "range": ["#f4a448", "#2f7bbf", "#c8302e", "#f4a448"]}, "legend": null}
}
}
]
},
{
"width": 963,
"height": 510,
"layer": [
{
"data": {"values": [{"region": "IIb", "from": 0.5, "to": 49.5}, {"region": "IIa", "from": 49.5, "to": 84.5}]},
"mark": {"type": "rect"},
"encoding": {
"x": {"field": "from", "type": "quantitative", "scale": {"domain": [0.5, 84.5], "nice": false, "zero": false}, "axis": null},
"x2": {"field": "to"},
"color": {"field": "region", "type": "nominal", "scale": {"domain": ["IIa", "IIb"], "range": ["#cadaea", "#efc8c8"]}, "legend": null}
}
},
{
"data": {"name": "bottom"},
"transform": [{"flatten": ["s"], "as": ["a"]}, {"window": [{"op": "row_number", "as": "c"}], "groupby": ["n"]}],
"mark": {"type": "text", "font": "Liberation Serif", "fontSize": 12.5, "align": "center", "baseline": "middle"},
"encoding": {
"x": {"field": "c", "type": "quantitative", "axis": null},
"y": {"field": "n", "type": "ordinal", "sort": null, "scale": {"paddingInner": 0, "paddingOuter": 0},
"axis": {"title": null, "labelAlign": "left", "labelPadding": 188, "labelFont": "Liberation Serif", "labelFontSize": 11.5, "labelColor": "#111111", "labelLimit": 400}},
"text": {"field": "a"},
"color": {"condition": {"test": "datum.c >= 50", "value": "#2d3a4a"}, "value": "#4a2828"}
}
},
{
"data": {"values": [{"from": 69.5, "to": 84.5}]},
"mark": {"type": "rect", "filled": false, "stroke": "#f4a448", "strokeWidth": 3},
"encoding": {
"x": {"field": "from", "type": "quantitative", "axis": null},
"x2": {"field": "to"}
}
},
{
"data": {"values": [{"col": 77, "sym": "*"}, {"col": 78, "sym": "*"}]},
"mark": {"type": "text", "font": "Liberation Sans", "fontSize": 20, "align": "center", "baseline": "alphabetic", "dy": -2.5, "color": "#f4a448"},
"encoding": {
"x": {"field": "col", "type": "quantitative", "axis": null},
"y": {"datum": "AlfA", "type": "ordinal"},
"text": {"field": "sym"}
}
},
{
"data": {"values": [{"label": "subdomain IIb", "col": 22.8}, {"label": "subdomain IIa", "col": 63.6}]},
"mark": {"type": "text", "font": "Liberation Sans", "fontSize": 27, "align": "center", "baseline": "alphabetic", "dy": 49},
"encoding": {
"x": {"field": "col", "type": "quantitative", "axis": null},
"y": {"datum": "MreB", "type": "ordinal"},
"text": {"field": "label"},
"fill": {"field": "label", "type": "nominal", "scale": {"domain": ["phosphate 2", "subdomain IIa", "subdomain IIb", "adenosine"], "range": ["#f4a448", "#2f7bbf", "#c8302e", "#f4a448"]}, "legend": null}
}
},
{
"data": {"values": [{"label": "adenosine", "col": 78.0}]},
"mark": {"type": "text", "font": "Liberation Sans", "fontSize": 27, "align": "center", "baseline": "alphabetic", "dy": 32},
"encoding": {
"x": {"field": "col", "type": "quantitative", "axis": null},
"y": {"datum": "MreB", "type": "ordinal"},
"text": {"field": "label"},
"fill": {"field": "label", "type": "nominal", "scale": {"domain": ["phosphate 2", "subdomain IIa", "subdomain IIb", "adenosine"], "range": ["#f4a448", "#2f7bbf", "#c8302e", "#f4a448"]}, "legend": null}
}
}
]
}
]
}
